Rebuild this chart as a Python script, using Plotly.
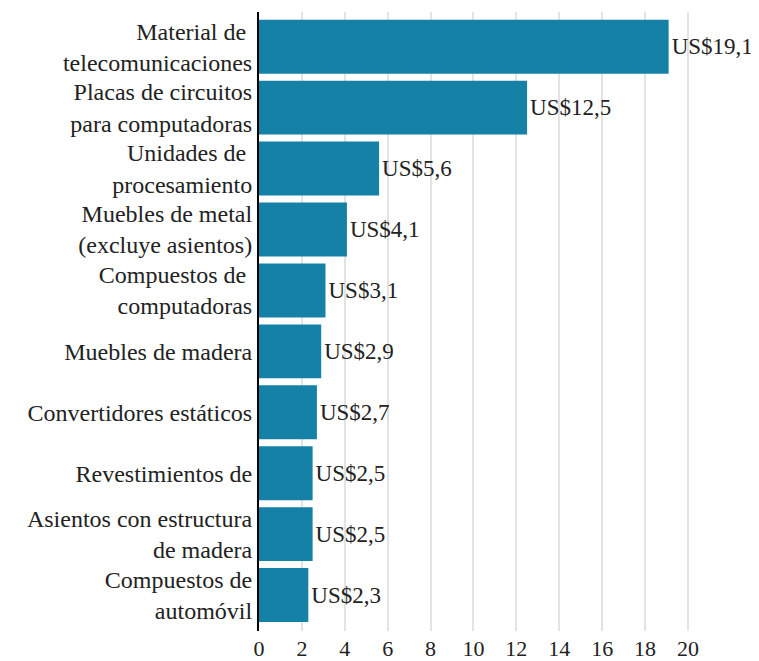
import plotly.graph_objects as go

categories = [
    "Material de <br>telecomunicaciones",
    "Placas de circuitos<br>para computadoras",
    "Unidades de <br>procesamiento",
    "Muebles de metal<br>(excluye asientos)",
    "Compuestos de <br>computadoras",
    "Muebles de madera",
    "Convertidores estáticos",
    "Revestimientos de",
    "Asientos con estructura<br>de madera",
    "Compuestos de<br>automóvil",
]
values = [19.1, 12.5, 5.6, 4.1, 3.1, 2.9, 2.7, 2.5, 2.5, 2.3]
value_labels = ["US$" + f"{v:.1f}".replace(".", ",") for v in values]
x_ticks = list(range(0, 21, 2))

font_family = "'Liberation Serif', 'DejaVu Serif', serif"

fig = go.Figure(
    go.Bar(
        x=values,
        y=categories,
        orientation="h",
        marker=dict(color="#1581a6", line=dict(width=0)),
        text=value_labels,
        textposition="outside",
        textfont=dict(family=font_family, size=23, color="#222222"),
        cliponaxis=False,
        hoverinfo="skip",
    )
)

# The page body adds an 8px offset, so the figure is 8px smaller than the window.
fig.update_layout(
    width=751,
    height=653,
    margin=dict(l=251, r=5, t=4, b=30),
    plot_bgcolor="white",
    paper_bgcolor="white",
    bargap=0.115,
    showlegend=False,
    font=dict(family=font_family, size=22, color="#222222"),
    uniformtext=dict(minsize=23, mode="show"),
)

fig.update_xaxes(
    range=[0, 23.08],
    tickvals=x_ticks,
    ticktext=[str(t) for t in x_ticks],
    showgrid=True,
    gridcolor="#e3e3e3",
    gridwidth=2,
    zeroline=False,
    showline=False,
    ticks="",
    ticklabelstandoff=2,
    automargin=False,
    tickfont=dict(family=font_family, size=22, color="#222222"),
)

fig.update_yaxes(
    range=[9.59, -0.57],
    showline=True,
    linecolor="black",
    linewidth=2,
    ticks="",
    ticklabelstandoff=0,
    showgrid=False,
    automargin=False,
    tickfont=dict(family=font_family, size=24, color="#222222"),
)

fig.write_html("out.html")
